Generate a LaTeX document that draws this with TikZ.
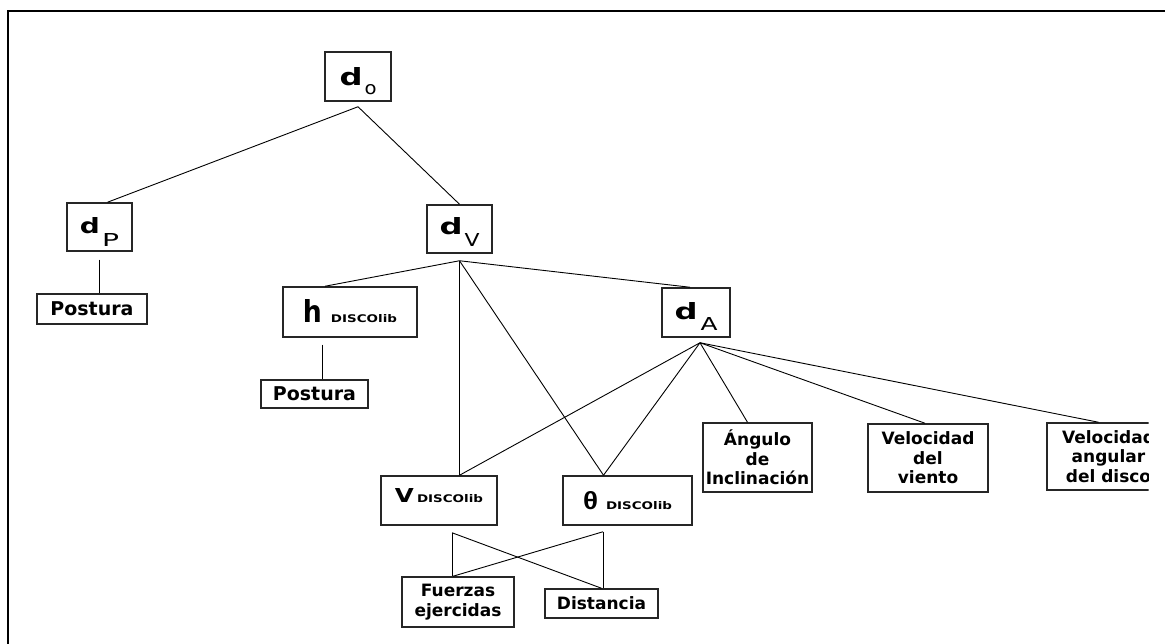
\documentclass[tikz,border=0pt]{standalone}
\usepackage{fontspec}
\setmainfont{DejaVu Sans}
\newfontfamily\lsans{Liberation Sans}
\usepackage{graphicx}
\tikzset{
  box/.style={draw=black!85, line width=1.5pt, inner sep=0pt, align=center,
    font=\bfseries\fontsize{17}{19.5}\selectfont},
  sym/.style={draw=black!85, line width=1.5pt, inner sep=0pt,
    text height=#1, text depth=0pt},
  link/.style={line width=0.9pt},
  frame/.style={line width=2.6pt}
}
% big bold letter of given width and height
\newcommand{\Gl}[3]{\resizebox{#2}{#3}{\bfseries #1}}
% subscript: letter, width, height, drop
\newcommand{\Sbs}[4]{\raisebox{-#4}{\resizebox{#2}{#3}{\mdseries #1}}}
\newcommand{\Disc}{\resizebox{66pt}{8pt}{\bfseries DISCOlib}}
\begin{document}
\begin{tikzpicture}[x=1pt,y=-1pt]
\useasboundingbox (0,0) rectangle (1165,644);
\draw[frame] (8,650) -- (8,11) -- (1170,11);

\node[sym=19pt, minimum width=66pt, minimum height=49pt] (do) at (358,76.5)
  {\Gl{d}{23pt}{18pt}\hspace{2pt}\Sbs{o}{12pt}{10pt}{9pt}};
\node[sym=14pt, minimum width=65pt, minimum height=48pt] (dP) at (99.5,227)
  {\Gl{d}{20pt}{16pt}\hspace{2pt}\Sbs{P}{17pt}{13pt}{13pt}};
\node[box, minimum width=110pt, minimum height=30pt, font=\bfseries\fontsize{19}{19}\selectfont] (post1) at (92,309) {Postura};
\node[sym=12pt, minimum width=65pt, minimum height=48pt] (dV) at (459.5,229)
  {\Gl{d}{23pt}{17pt}\hspace{2pt}\Sbs{V}{15pt}{13pt}{12pt}};
\node[sym=21pt, minimum width=134pt, minimum height=50pt] (h) at (350,312)
  {\Gl{h}{19pt}{23pt}\hspace{9pt}\Disc\hspace{12pt}};
\node[box, minimum width=107pt, minimum height=28pt, font=\bfseries\fontsize{19}{19}\selectfont] (post2) at (314.5,394) {Postura};
\node[sym=15pt, minimum width=68pt, minimum height=49pt] (dA) at (696,312.5)
  {\Gl{d}{23pt}{17pt}\hspace{3pt}\Sbs{A}{17pt}{13pt}{10pt}};
\node[sym=4pt, minimum width=116pt, minimum height=49pt] (V) at (439,500.5)
  {\Gl{V}{19pt}{14pt}\hspace{3pt}\Disc\hspace{18pt}};
\node[sym=17pt, minimum width=129pt, minimum height=49pt] (th) at (627.5,500.5)
  {\resizebox{15pt}{18pt}{\lsans\bfseries θ}\hspace{8pt}\Disc\hspace{13pt}};
\node[box, minimum width=109pt, minimum height=69pt] (ang) at (757.5,457.5) {Ángulo\\de\\Inclinación};
\node[box, minimum width=120pt, minimum height=68pt] (vv) at (928,458) {Velocidad\\del\\viento};
\begin{scope}
\clip (0,0) rectangle (1148.5,644);
\node[box, minimum width=123pt, minimum height=67pt] (va) at (1108.5,456.5) {Velocidad\\angular\\del disco};
\end{scope}
\node[box, minimum width=112pt, minimum height=50pt] (fu) at (458,602) {Fuerzas\\ejercidas};
\node[box, minimum width=113pt, minimum height=29pt] (di) at (601.5,603.5) {Distancia};

\draw[link] ([yshift=-5pt]do.south) -- ([xshift=8pt]dP.north);
\draw[link] ([yshift=-5pt]do.south) -- (dV.north);
\draw[link] ([yshift=-8pt]dP.south) -- (post1.north -| dP.south);
\draw[link] ([yshift=-7pt]dV.south) -- ([xshift=-25pt]h.north);
\draw[link] ([yshift=-7pt]dV.south) -- ([xshift=-6pt]dA.north);
\draw[link] ([yshift=-7pt]dV.south) -- (V.north -| dV.south);
\draw[link] ([yshift=-7pt]dV.south) -- ([xshift=-24pt]th.north);
\draw[link] ([xshift=-28pt,yshift=-7pt]h.south) -- ([xshift=7.5pt]post2.north);
\draw[link] ([xshift=4pt,yshift=-5pt]dA.south) -- (V.north -| dV.south);
\draw[link] ([xshift=4pt,yshift=-5pt]dA.south) -- ([xshift=-24pt]th.north);
\draw[link] ([xshift=4pt,yshift=-5pt]dA.south) -- ([xshift=-10pt]ang.north);
\draw[link] ([xshift=4pt,yshift=-5pt]dA.south) -- ([xshift=-3pt]vv.north);
\draw[link] ([xshift=4pt,yshift=-5pt]dA.south) -- ([xshift=-10pt]va.north);
\draw[link] ([xshift=13pt,yshift=-7pt]V.south) -- ([xshift=-6pt]fu.north);
\draw[link] ([xshift=13pt,yshift=-7pt]V.south) -- (di.north);
\draw[link] ([xshift=-24.5pt,yshift=-6pt]th.south) -- ([xshift=1.5pt]di.north);
\draw[link] ([xshift=-24.5pt,yshift=-6pt]th.south) -- ([xshift=-5pt]fu.north);
\end{tikzpicture}
\end{document}
